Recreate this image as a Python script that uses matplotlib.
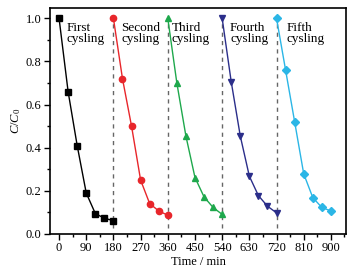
import matplotlib
matplotlib.use("Agg")
import matplotlib.pyplot as plt
from matplotlib.ticker import MultipleLocator

plt.rcParams['font.family'] = ['Liberation Serif', 'DejaVu Serif']
plt.rcParams['mathtext.fontset'] = 'custom'
plt.rcParams['mathtext.it'] = 'Liberation Serif:italic'
plt.rcParams['mathtext.rm'] = 'Liberation Serif'

# Time points of each run (min)
t1 = [0, 30, 60, 90, 120, 150, 180]
t2 = [180, 210, 240, 270, 300, 330, 360]
t3 = [360, 390, 420, 450, 480, 510, 540]
t4 = [540, 570, 600, 630, 660, 690, 720]
t5 = [720, 750, 780, 810, 840, 870, 900]

# C/C0 values
c1 = [1.0, 0.66, 0.41, 0.19, 0.095, 0.073, 0.062]
c2 = [1.0, 0.72, 0.50, 0.25, 0.141, 0.107, 0.087]
c3 = [1.0, 0.70, 0.454, 0.262, 0.172, 0.123, 0.091]
c4 = [1.0, 0.706, 0.454, 0.268, 0.178, 0.129, 0.098]
c5 = [1.0, 0.76, 0.52, 0.279, 0.169, 0.123, 0.107]

run_labels = ["First\ncysling", "Second\ncysling", "Third\ncysling",
              "Fourth\ncysling", "Fifth\ncysling"]
label_x = [24, 206, 373, 566, 754]
cycle_breaks = [180, 360, 540, 720]

colors = ['black', '#e8262b', '#1ea84c', '#2b2e8a', '#2bb6e6']
markers = ['s', 'o', '^', 'v', 'D']

fig = plt.figure(figsize=(3.58, 2.69), dpi=100)
ax = fig.add_axes([50 / 358, 1 - 234 / 269, 296 / 358, 226 / 269])

for xb in cycle_breaks:
    ax.plot([xb, xb], [0.03, 1.0], color='#666666', linestyle=(0, (3, 3)),
            lw=1.0, zorder=1)

series = [(t1, c1), (t2, c2), (t3, c3), (t4, c4), (t5, c5)]
for i, (t, c) in enumerate(series):
    ms = 4.5 if markers[i] != 'D' else 4
    ax.plot(t, c, color=colors[i], marker=markers[i], markersize=ms,
            lw=1.0, zorder=3)
    ax.text(label_x[i], 0.985, run_labels[i], fontsize=9.5, va='top',
            ha='left', linespacing=0.9)

ax.set_xlim(-30, 950)
ax.set_ylim(0, 1.048)
ax.xaxis.set_minor_locator(MultipleLocator(45))
ax.yaxis.set_minor_locator(MultipleLocator(0.1))
ax.set_xticks(range(0, 901, 90))
ax.set_yticks([0.0, 0.2, 0.4, 0.6, 0.8, 1.0])
ax.set_yticklabels(['0.0', '0.2', '0.4', '0.6', '0.8', '1.0'])
ax.tick_params(which='major', direction='out', length=4, width=1,
               labelsize=9, pad=2)
ax.tick_params(which='minor', direction='out', length=2.5, width=1)
for s in ax.spines.values():
    s.set_linewidth(1.2)

ax.set_xlabel("Time / min", fontsize=9, labelpad=1)
ax.set_ylabel("$C$/$C_0$", fontsize=9, labelpad=2)

fig.savefig("out.png", dpi=100)
